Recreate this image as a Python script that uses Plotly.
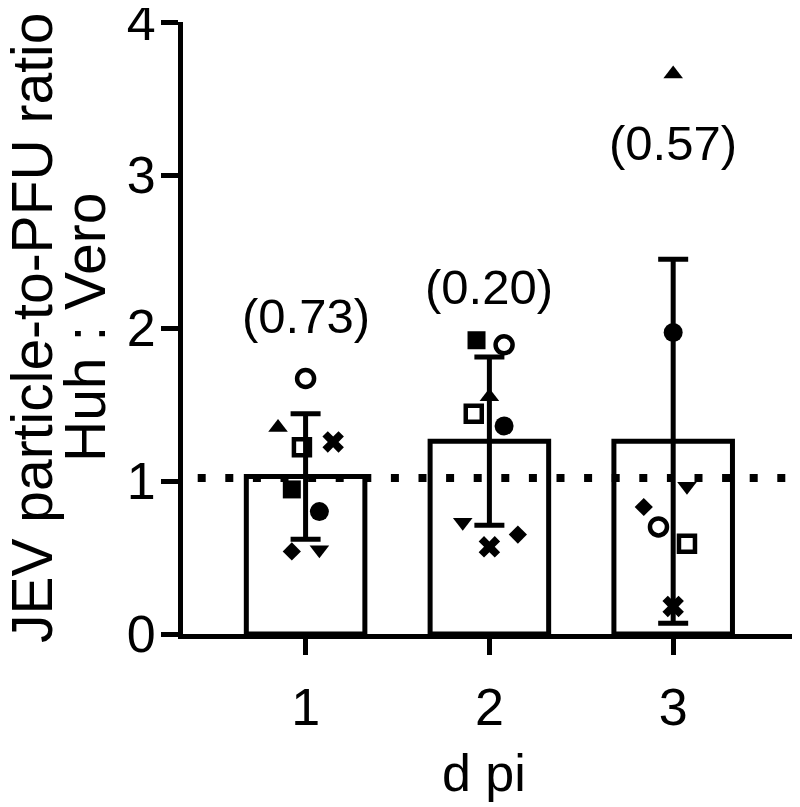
import plotly.graph_objects as go

# ---- data ----
days = [1, 2, 3]
day_labels = ["1", "2", "3"]
bar_means = [1.03, 1.26, 1.26]
bar_sd = [0.41, 0.55, 1.19]
p_labels = ["(0.73)", "(0.20)", "(0.57)"]
p_label_y = [2.08, 2.27, 3.21]

# individual experiments (one value per day; None = missing)
subjects = ["open circle", "filled triangle up", "open square", "cross",
            "filled square", "filled circle", "filled diamond", "filled triangle down"]
vals_open_circle = [1.67, 1.89, 0.70]
vals_tri_up = [1.35, 1.55, 3.66]
vals_open_square = [1.22, 1.44, 0.59]
vals_cross = [1.255, 0.57, 0.18]
vals_sq = [0.945, 1.92, None]
vals_circle = [0.80, 1.36, 1.97]
vals_diamond = [0.54, 0.65, 0.83]
vals_tri_down = [0.55, 0.73, 0.965]

yticks = [0, 1, 2, 3, 4]
ref_level = 1.02

# ---- styling (horizontal scatter offsets in category units) ----
style = [
    (vals_open_circle, "circle-open", 17, 4.5, [0.0, 0.08, -0.08]),
    (vals_tri_up, "triangle-up", 17, 0, [-0.15, 0.0, 0.0]),
    (vals_open_square, "square-open", 16, 4.5, [-0.02, -0.085, 0.075]),
    (vals_cross, "x", 19, 0, [0.15, 0.0, 0.0]),
    (vals_sq, "square", 18, 0, [-0.075, -0.07, 0.0]),
    (vals_circle, "circle", 19, 0, [0.075, 0.08, 0.0]),
    (vals_diamond, "diamond", 14, 0, [-0.075, 0.155, -0.16]),
    (vals_tri_down, "triangle-down", 17, 0, [0.075, -0.145, 0.075]),
]

FONT = "Liberation Sans, Arial, sans-serif"
# page body has an 8px default margin; figure is sized/placed to compensate
L, T, B = 175, 14, 173
W, H = 792, 799
PW = W - L
PH = H - T - B

fig = go.Figure()

fig.add_trace(go.Bar(
    x=days, y=bar_means, width=0.645,
    marker=dict(color="white", line=dict(color="black", width=5)),
    showlegend=False, hoverinfo="skip",
))

for vals, sym, size, lw, offs in style:
    xs, ys = [], []
    for d, v, o in zip(days, vals, offs):
        if v is None:
            continue
        xs.append(d + o)
        ys.append(v)
    fig.add_trace(go.Scatter(
        x=xs, y=ys, mode="markers",
        marker=dict(symbol=sym, size=size, color="black",
                    line=dict(color="black", width=lw)),
        showlegend=False, hoverinfo="skip",
    ))

# error bars (mean +/- SD) drawn on top
fig.add_trace(go.Scatter(
    x=days, y=bar_means, mode="markers",
    marker=dict(size=0.1, color="rgba(0,0,0,0)"),
    error_y=dict(type="data", array=bar_sd, visible=True,
                 color="black", thickness=5, width=15),
    showlegend=False, hoverinfo="skip",
))

for d, txt, yv in zip(days, p_labels, p_label_y):
    fig.add_annotation(x=d, y=yv, text=txt, showarrow=False,
                       font=dict(family=FONT, size=49, color="black"),
                       yanchor="middle")

fig.add_shape(type="line", xref="x", yref="y", x0=0.413, x1=3.69,
              y0=ref_level, y1=ref_level,
              line=dict(color="black", width=8, dash="8px,19.6px"))

# y-axis title (two lines)
fig.add_annotation(xref="paper", yref="paper", x=(24 - L) / PW, y=0.5,
                   text="JEV particle-to-PFU ratio", textangle=-90,
                   showarrow=False, xanchor="center", yanchor="middle",
                   font=dict(family=FONT, size=57, color="black"))
fig.add_annotation(xref="paper", yref="paper", x=(77 - L) / PW, y=0.5,
                   text="Huh : Vero", textangle=-90,
                   showarrow=False, xanchor="center", yanchor="middle",
                   font=dict(family=FONT, size=57, color="black"))
# x-axis title
fig.add_annotation(xref="paper", yref="paper", x=(476 - L) / PW,
                   y=(626 - 765) / PH, text="d pi", showarrow=False,
                   xanchor="center", yanchor="middle",
                   font=dict(family=FONT, size=52, color="black"))

fig.update_layout(
    width=W, height=H,
    margin=dict(l=L, r=0, t=T, b=B, autoexpand=False),
    paper_bgcolor="white", plot_bgcolor="white",
    font=dict(family=FONT, color="black"),
    xaxis=dict(range=[0.333, 3.69], tickmode="array", tickvals=days,
               ticktext=day_labels, ticks="outside", ticklen=16, tickwidth=5,
               tickcolor="black", showline=True, linecolor="black",
               linewidth=5, showgrid=False, zeroline=False,
               ticklabelstandoff=8, automargin=False,
               tickfont=dict(family=FONT, size=52, color="black")),
    yaxis=dict(range=[0, 4], tickmode="array", tickvals=yticks,
               ticks="outside", ticklen=17, tickwidth=5, tickcolor="black",
               showline=True, linecolor="black", linewidth=5,
               showgrid=False, zeroline=False, ticklabeloverflow="allow",
               ticklabelstandoff=-5, automargin=False,
               tickfont=dict(family=FONT, size=52, color="black")),
)

fig.write_html("out.html")
